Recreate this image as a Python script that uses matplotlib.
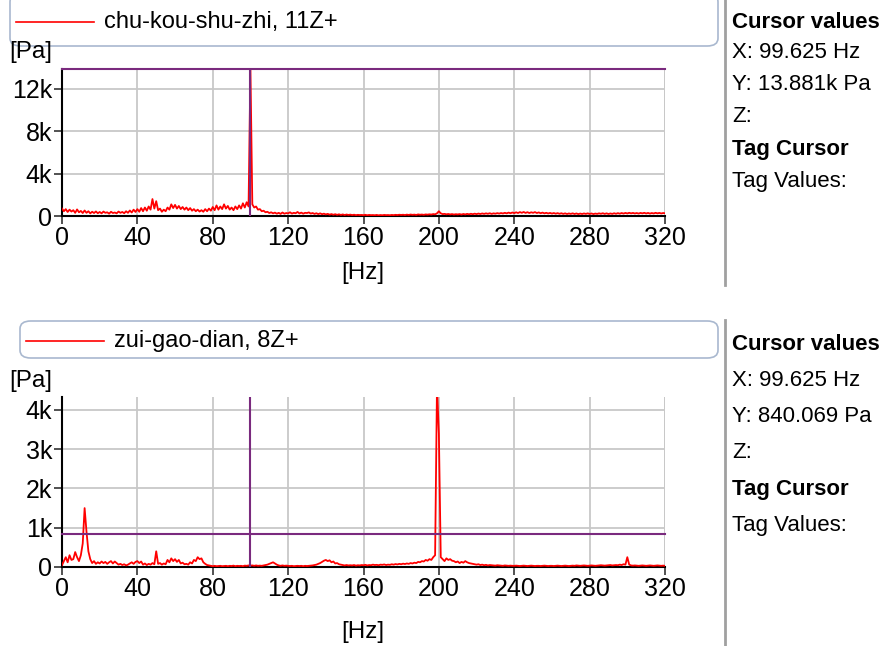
import numpy as np
import matplotlib
matplotlib.use('agg')
import matplotlib.pyplot as plt
from matplotlib.patches import FancyBboxPatch
from matplotlib.lines import Line2D

plt.rcParams['font.family'] = ['Liberation Sans', 'DejaVu Sans']

# frequency grid, 1 Hz steps
freq = np.arange(0, 321)

# chu-kou-shu-zhi, 11Z+  [Pa]
top_vals = [
    700, 450, 650, 380, 600, 420, 550, 300, 620, 350, 480, 280, 520, 300, 450, 250, 400, 280, 430, 260,
    380, 250, 420, 300, 350, 220, 400, 280, 330, 250, 420, 300, 380, 260, 450, 300, 520, 330, 600, 380,
    650, 400, 750, 450, 800, 500, 900, 600, 1600, 700, 1400, 550, 700, 400, 600, 450, 800, 600, 1100, 750,
    1050, 700, 950, 650, 850, 600, 800, 550, 750, 500, 650, 450, 600, 420, 550, 400, 650, 450, 700, 500,
    850, 550, 1000, 600, 900, 650, 1100, 700, 950, 600, 800, 550, 900, 650, 1000, 700, 1200, 800, 1300, 900,
    13881, 1100, 800, 900, 600, 650, 450, 500, 350, 400, 280, 350, 250, 320, 220, 300, 200, 330, 220, 280,
    250, 350, 230, 300, 260, 380, 240, 320, 220, 300, 280, 340, 230, 280, 200, 260, 180, 250, 170, 220,
    150, 200, 130, 180, 120, 170, 110, 160, 100, 150, 90, 140, 100, 130, 90, 120, 80, 110, 90, 100,
    80, 110, 70, 100, 80, 90, 70, 100, 60, 90, 70, 100, 80, 90, 70, 100, 80, 110, 90, 120,
    100, 120, 90, 130, 100, 140, 110, 130, 100, 150, 120, 140, 110, 150, 130, 160, 140, 180, 160, 250,
    450, 250, 180, 200, 160, 190, 150, 180, 140, 170, 150, 180, 140, 190, 150, 200, 160, 210, 170, 220,
    180, 230, 190, 240, 200, 250, 210, 260, 200, 250, 220, 270, 230, 280, 240, 300, 250, 320, 260, 330,
    270, 350, 280, 370, 300, 380, 290, 360, 280, 350, 300, 370, 280, 340, 260, 320, 250, 300, 240, 290,
    230, 280, 220, 270, 210, 260, 200, 250, 190, 240, 200, 250, 190, 240, 180, 230, 190, 240, 200, 250,
    190, 240, 180, 230, 200, 250, 210, 260, 200, 250, 190, 240, 200, 260, 210, 270, 220, 280, 230, 290,
    240, 300, 250, 290, 240, 280, 230, 290, 250, 300, 240, 290, 230, 280, 240, 300, 250, 290, 240, 280, 260,
]

# zui-gao-dian, 8Z+  [Pa]
bot_vals = [
    50, 150, 250, 120, 300, 180, 200, 380, 250, 150, 300, 600, 1500, 900, 400, 200, 100, 150, 80, 120,
    90, 140, 100, 130, 80, 120, 150, 90, 140, 100, 60, 80, 50, 70, 40, 60, 90, 120, 80, 130,
    150, 100, 140, 60, 90, 50, 80, 60, 100, 70, 400, 80, 100, 60, 90, 70, 180, 120, 220, 150,
    200, 130, 180, 90, 110, 70, 80, 60, 120, 90, 180, 150, 250, 200, 220, 120, 80, 50, 40, 30,
    20, 30, 20, 25, 30, 20, 25, 30, 20, 30, 25, 35, 20, 30, 25, 30, 20, 35, 30, 40,
    35, 40, 30, 40, 30, 35, 30, 40, 50, 60, 80, 100, 120, 90, 60, 40, 30, 40, 30, 35,
    30, 25, 30, 20, 25, 30, 25, 30, 20, 30, 25, 30, 35, 40, 50, 60, 80, 100, 130, 160,
    180, 150, 170, 120, 140, 90, 100, 70, 60, 50, 40, 50, 40, 45, 40, 50, 35, 45, 40, 50,
    45, 55, 40, 50, 45, 60, 50, 55, 45, 60, 55, 65, 50, 60, 55, 70, 60, 75, 65, 80,
    70, 85, 75, 90, 80, 100, 90, 110, 100, 130, 120, 150, 140, 180, 160, 200, 180, 250, 300, 4600,
    3400, 250, 200, 150, 220, 180, 200, 160, 150, 120, 140, 100, 130, 110, 150, 120, 100, 90, 80, 70,
    60, 70, 50, 60, 45, 55, 40, 50, 45, 40, 35, 45, 40, 35, 30, 40, 35, 30, 35, 30,
    30, 35, 30, 25, 30, 35, 30, 25, 30, 35, 30, 25, 30, 30, 25, 30, 35, 30, 25, 30,
    30, 25, 30, 35, 30, 25, 30, 35, 30, 25, 30, 35, 30, 40, 35, 30, 35, 40, 35, 30,
    35, 40, 35, 30, 35, 40, 45, 40, 35, 40, 45, 50, 40, 45, 50, 45, 60, 50, 70, 60,
    250, 60, 40, 35, 40, 35, 30, 35, 40, 35, 30, 35, 40, 35, 30, 35, 40, 35, 30, 35, 30,
]

titles = ['chu-kou-shu-zhi, 11Z+', 'zui-gao-dian, 8Z+']
cursor_x = 99.625
cursor_y = [13881, 840.069]
ylims = [13881, 4330]
yticks = [[0, 4000, 8000, 12000], [0, 1000, 2000, 3000, 4000]]
ytick_labels = [['0', '4k', '8k', '12k'], ['0', '1k', '2k', '3k', '4k']]
xticks = [0, 40, 80, 120, 160, 200, 240, 280, 320]
readouts = [
    ['Cursor values', 'X: 99.625 Hz', 'Y: 13.881k Pa', 'Z:', 'Tag Cursor', 'Tag Values:'],
    ['Cursor values', 'X: 99.625 Hz', 'Y: 840.069 Pa', 'Z:', 'Tag Cursor', 'Tag Values:'],
]

W, H = 893, 646
fig = plt.figure(figsize=(W / 100, H / 100), dpi=100)

def fx(px):
    return px / W

def fy(py):
    return 1 - py / H

red = '#ff0000'
purple = '#7a2a7e'
grid_c = '#c8c8c8'

panels = [
    dict(atop=69, abot=216, btop=-6, bbot=46, bx=10, liney=22, pay=52, hzy=273,
         ry=[22, 52, 85, 117, 149, 181], sep=(0, 285)),
    dict(atop=397, abot=567, btop=321, bbot=358, bx=20, liney=341, pay=381, hzy=632,
         ry=[344, 381, 416, 453, 490, 526], sep=(320, 646)),
]

series = [top_vals, bot_vals]
for i, p in enumerate(panels):
    ax = fig.add_axes([fx(62), fy(p['abot']), fx(665 - 62), (p['abot'] - p['atop']) / H])
    ax.plot(freq, series[i], color=red, lw=1.3, zorder=3)
    ax.set_xlim(0, 320)
    ax.set_ylim(0, ylims[i])
    ax.set_xticks(xticks)
    ax.set_xticklabels([str(t) for t in xticks])
    ax.set_yticks(yticks[i])
    ax.set_yticklabels(ytick_labels[i])
    ax.tick_params(axis='both', labelsize=18, length=6, width=1.2, pad=1, color='#333333')
    ax.grid(True, color=grid_c, lw=1.3)
    ax.set_axisbelow(True)
    for s in ['top', 'right']:
        ax.spines[s].set_visible(False)
    ax.spines['left'].set_linewidth(1.5)
    ax.spines['bottom'].set_linewidth(1.5)
    ax.axvline(320, color=grid_c, lw=1.3, zorder=1)

    # cursor
    ax.axvline(cursor_x, color=purple, lw=1.5, zorder=4)
    ax.axhline(cursor_y[i], color=purple, lw=1.5, zorder=4, clip_on=False)

    # unit labels
    fig.text(fx(9), fy(p['pay']), '[Pa]', fontsize=17.5, va='center', ha='left')
    fig.text(fx(363), fy(p['hzy']), '[Hz]', fontsize=17.5, va='center', ha='center')

    # legend box
    box = FancyBboxPatch((fx(p['bx']), fy(p['bbot'])), fx(718 - p['bx']),
                         (p['bbot'] - p['btop']) / H,
                         boxstyle='round,pad=0,rounding_size=0.012',
                         transform=fig.transFigure, facecolor='white',
                         edgecolor='#a9b8cf', lw=1.2, zorder=0)
    fig.patches.append(box)
    fig.add_artist(Line2D([fx(p['bx'] + 6), fx(p['bx'] + 84)], [fy(p['liney'])] * 2,
                          color=red, lw=1.2, transform=fig.transFigure))
    fig.text(fx(p['bx'] + 94), fy(p['liney']), titles[i], fontsize=17, va='center', ha='left')

    # separator and readout
    fig.add_artist(Line2D([fx(725), fx(725)], [fy(p['sep'][0]), fy(p['sep'][1])],
                          color='#a0a0a0', lw=2, transform=fig.transFigure))
    for j, (txt, yy) in enumerate(zip(readouts[i], p['ry'])):
        bold = j in (0, 4)
        fig.text(fx(732), fy(yy), txt, fontsize=16, va='center', ha='left',
                 fontweight='bold' if bold else 'normal')

fig.savefig('out.png', dpi=100)
